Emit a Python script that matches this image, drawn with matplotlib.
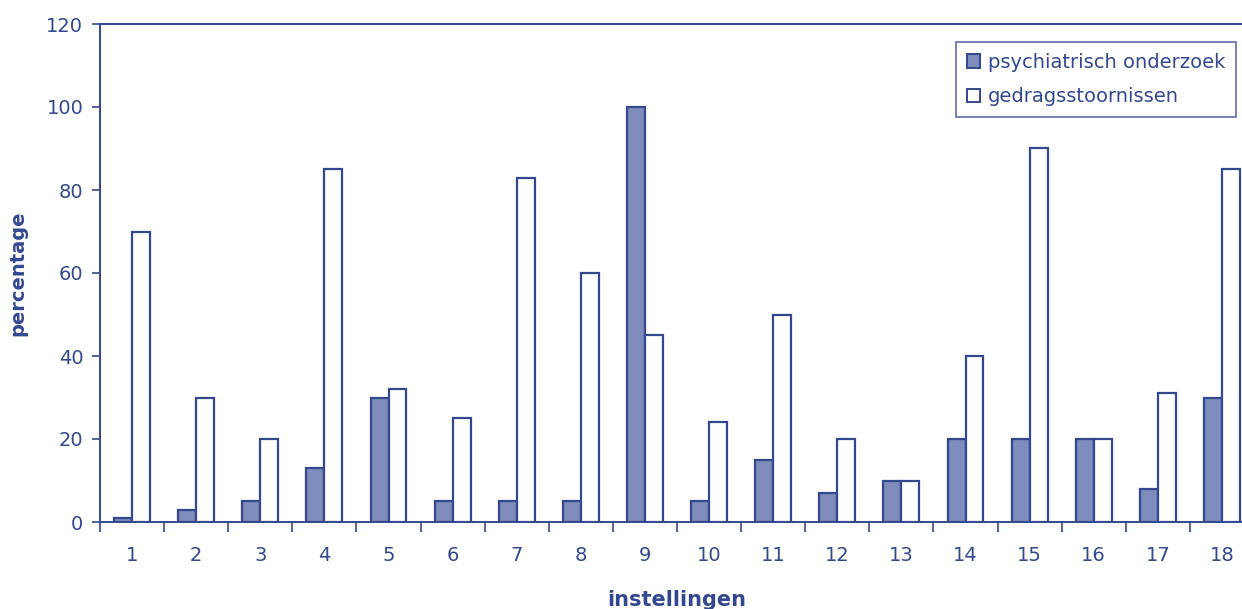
import numpy as np
import matplotlib.pyplot as plt
from matplotlib.patches import Patch

# Percentages per instelling
instellingen = list(range(1, 19))
psychiatrisch = [1, 3, 5, 13, 30, 5, 5, 5, 100, 5, 15, 7, 10, 20, 20, 20, 8, 30]
gedrag = [70, 30, 20, 85, 32, 25, 83, 60, 45, 24, 50, 20, 10, 40, 90, 20, 31, 85]

blue = '#33488f'
fill = '#7d8cba'

plt.rcParams['font.family'] = ['DejaVu Sans']

fig = plt.figure(figsize=(12.42, 6.09), dpi=100)
# axes run slightly past the right edge of the figure
ax = fig.add_axes([100 / 1242, 87 / 609, 1154 / 1242, 498 / 609])

x = np.array(instellingen)
w = 0.28
ax.bar(x - w / 2, psychiatrisch, w, color=fill, edgecolor=blue, linewidth=1.6)
ax.bar(x + w / 2, gedrag, w, color='white', edgecolor=blue, linewidth=1.6)

ax.set_xlim(0.5, 18.5)
ax.set_ylim(0, 120)
ax.set_yticks(range(0, 121, 20))

# labels at group centres, tick marks between groups
ax.set_xticks(x)
ax.set_xticklabels([str(i) for i in instellingen])
ax.set_xticks(np.arange(0.5, 19, 1), minor=True)
ax.tick_params(axis='x', which='major', length=0, pad=17, labelsize=14, labelcolor=blue)
ax.tick_params(axis='x', which='minor', length=7, width=1.2, color=blue)
ax.tick_params(axis='y', length=6, width=1.2, color=blue, pad=6, labelsize=14, labelcolor=blue)

for s in ax.spines.values():
    s.set_color(blue)
    s.set_linewidth(1.4)

ax.set_ylabel('percentage', fontsize=14, fontweight='bold', color=blue, labelpad=14)
ax.set_xlabel('instellingen', fontsize=15, fontweight='bold', color=blue, labelpad=18)

handles = [Patch(facecolor=fill, edgecolor=blue, linewidth=1.4, label='psychiatrisch onderzoek'),
           Patch(facecolor='white', edgecolor=blue, linewidth=1.4, label='gedragsstoornissen')]
leg = ax.legend(handles=handles, loc='upper right', bbox_to_anchor=(1236 / 1242, 567 / 609),
                bbox_transform=fig.transFigure, fontsize=14, frameon=True, fancybox=False,
                handlelength=0.7, handleheight=0.7, handletextpad=0.4, labelspacing=0.8,
                borderpad=0.55, borderaxespad=0)
leg.get_frame().set_edgecolor(blue)
leg.get_frame().set_linewidth(1.2)
for t in leg.get_texts():
    t.set_color(blue)

fig.savefig('out.png', dpi=100)
